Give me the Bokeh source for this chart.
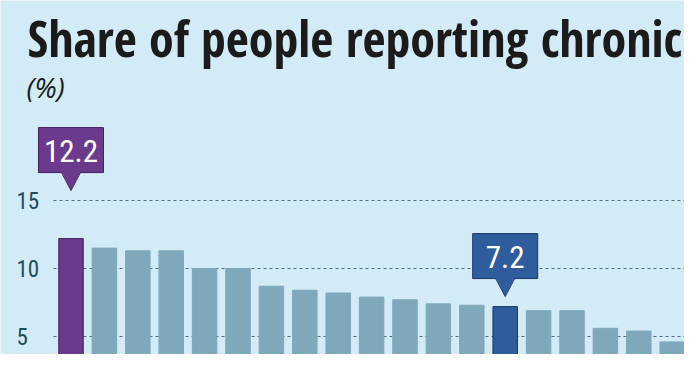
from bokeh.plotting import figure
from bokeh.models import Range1d, Label, ColumnDataSource
from bokeh.core.properties import value
from bokeh.embed import file_html
from bokeh.resources import INLINE

# ---- data ----
title_text = "Share of people reporting chronic"
unit_text = "(%)"
values = [12.2, 11.5, 11.3, 11.3, 10.0, 10.0, 8.7, 8.4, 8.2, 7.9, 7.7, 7.4, 7.3,
          7.2, 6.9, 6.9, 5.6, 5.4, 4.6]
positions = list(range(len(values)))
tick_values = [5, 10, 15]
tick_labels = ["5", "10", "15"]
highlight_index = [0, 13]
highlight_labels = ["12.2", "7.2"]

# ---- style / layout ----
W, H = 684, 354
BG = "#d3eaf7"
BAR = "#7fa8bb"
HL_FILL = ["#6b3a8c", "#2f5c9c"]
HL_LINE = ["#43215e", "#1c3767"]
TICK_COLOR = "#1f4d5d"
GRID_COLOR = "#4f6d7c"
COND_BOLD = "Open Sans Condensed"
COND = "Roboto Condensed"

X0_PX = 70.5      # px of first bar centre
PITCH = 33.4      # px between bars
PXY = 13.6        # px per unit
G15_PX = 200.0    # px of the 15 gridline
Y_TOP = 15 + G15_PX / PXY
x_start = -X0_PX / PITCH
x_end = (W - X0_PX) / PITCH
y_end = Y_TOP
y_start = Y_TOP - H / PXY

def dx(px):
    return px / PITCH

def dy(px):
    return px / PXY

p = figure(width=W, height=H, output_backend="svg", toolbar_location=None,
           x_range=Range1d(x_start, x_end), y_range=Range1d(y_start, y_end),
           x_axis_location=None, y_axis_location=None, min_border=0)
p.outline_line_color = None
p.background_fill_color = BG
p.border_fill_color = BG
p.xgrid.visible = False
p.ygrid.visible = False

# gridlines
grid_x0 = x_start + dx(53)
p.segment(x0=[grid_x0] * len(tick_values), x1=[x_end] * len(tick_values),
          y0=tick_values, y1=tick_values, line_color=GRID_COLOR,
          line_width=1.2, line_dash="3 3")

# tick labels
p.text(x=[x_start + dx(16)] * len(tick_values),
       y=[t + dy(0.5) for t in tick_values], text=tick_labels,
       text_font=value(COND), text_font_size="23px", text_color=TICK_COLOR,
       text_align="left", text_baseline="alphabetic")

# bars
fills = [BAR] * len(values)
lines = [BAR] * len(values)
for k, i in enumerate(highlight_index):
    fills[i] = HL_FILL[k]
    lines[i] = HL_LINE[k]
src = ColumnDataSource(dict(x=positions, top=values, fill=fills, line=lines))
p.vbar(x="x", top="top", bottom=0, width=dx(24.5), source=src,
       fill_color="fill", line_color="line", line_width=1)

# callouts
tip_gap_px = [48.0, 10.0]
BOX_W, BOX_H, TRI_H, TRI_HALF = 65, 45, 18, 9.5
for k, i in enumerate(highlight_index):
    v = values[i]
    tip = v + dy(tip_gap_px[k])
    base = tip + dy(TRI_H)
    p.quad(left=[i - dx(BOX_W / 2)], right=[i + dx(BOX_W / 2)],
           bottom=[base], top=[base + dy(BOX_H)],
           fill_color=HL_FILL[k], line_color=HL_LINE[k], line_width=1)
    p.patch(x=[i - dx(TRI_HALF), i + dx(TRI_HALF), i],
            y=[base + dy(1), base + dy(1), tip],
            fill_color=HL_FILL[k], line_color=None)
    p.multi_line(xs=[[i - dx(TRI_HALF), i, i + dx(TRI_HALF)]],
                 ys=[[base, tip, base]], line_color=HL_LINE[k], line_width=1)
    p.text(x=[i], y=[base + dy(BOX_H / 2) - dy(1)], text=[highlight_labels[k]],
           text_font=value(COND), text_font_size="31px", text_color="white",
           text_align="center", text_baseline="alphabetic")

# title
p.add_layout(Label(x=27, y=H - 37, x_units="screen", y_units="screen",
                   text=title_text, text_font=COND_BOLD, text_font_style="bold",
                   text_font_size="50px", text_color="#1b1b1b",
                   text_baseline="alphabetic", text_align="left"))
p.add_layout(Label(x=26, y=H - 86, x_units="screen", y_units="screen",
                   text=unit_text, text_font="Open Sans",
                   text_font_style="italic",
                   text_font_size="28px", text_color="#1b1b1b",
                   text_baseline="alphabetic", text_align="left"))

open("out.html", "w").write(file_html(p, INLINE))
